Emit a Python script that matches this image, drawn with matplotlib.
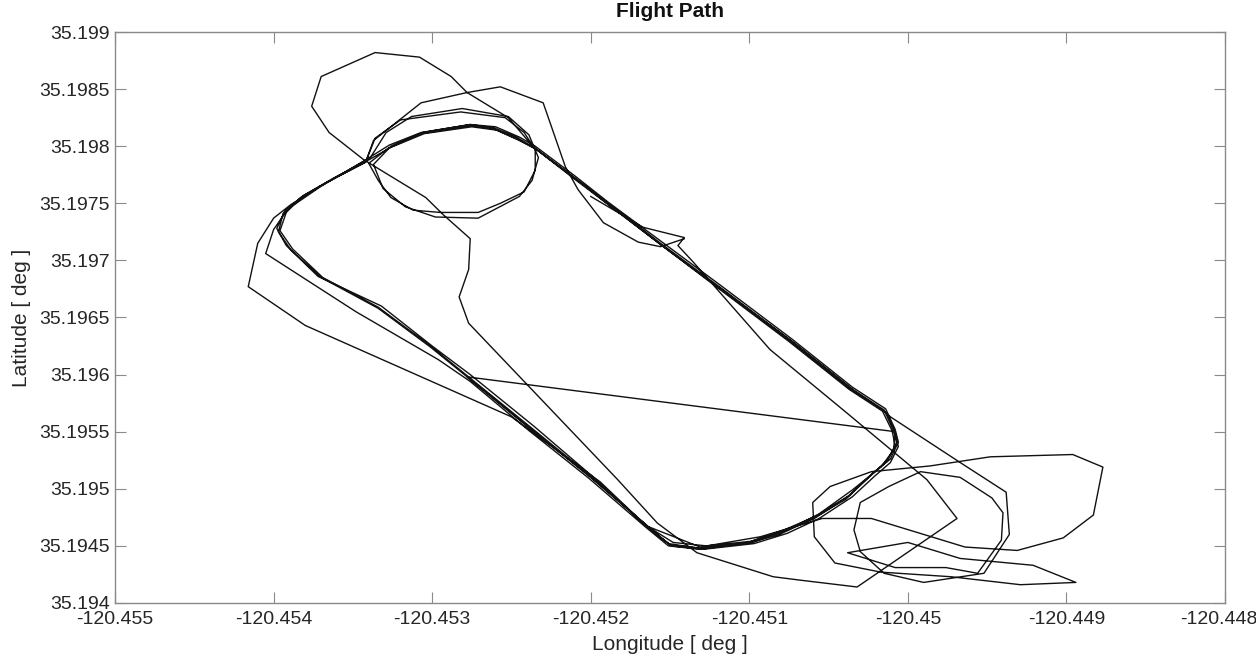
import matplotlib
matplotlib.use("Agg")
import matplotlib.pyplot as plt
from matplotlib.transforms import ScaledTranslation

plt.rcParams["font.family"] = ["Liberation Sans", "DejaVu Sans"]

# flight track, in order (degrees)
lon = [
    # take-off leg, big north-west loop, first pass
    -120.45200, -120.45167, -120.45141, -120.45145, -120.45135, -120.45087, -120.45039, -120.44988,
    -120.44969, -120.45032, -120.45068, -120.45085, -120.45133, -120.45158, -120.45183, -120.45277,
    -120.45283, -120.45277, -120.45276, -120.45293, -120.45304, -120.45343, -120.45365, -120.45376,
    -120.45370, -120.45336, -120.45308, -120.45288, -120.45278, -120.45252, -120.45236, -120.45211,
    -120.45189, -120.45156, -120.45118, -120.45074, -120.45036, -120.45015, -120.45009, -120.45007,
    -120.45013, -120.45023, -120.45038, -120.45059, -120.45080, -120.45101, -120.45131, -120.45150,
    -120.45164,
    # lap 1
    -120.45200, -120.45238, -120.45278, -120.45301, -120.45334, -120.45370, -120.45389, -120.45397,
    -120.45394, -120.45383, -120.45364, -120.45342,
    -120.45336, -120.45320, -120.45282, -120.45254, -120.45242, -120.45235, -120.45235, -120.45242,
    -120.45257, -120.45271, -120.45295, -120.45312, -120.45326, -120.45334, -120.45340,
    -120.45328, -120.45307, -120.45276, -120.45261, -120.45246, -120.45235, -120.45211, -120.45189,
    -120.45156, -120.45118, -120.45074, -120.45036, -120.45015, -120.45011,
    # south-east loops
    -120.44967, -120.44938, -120.44936, -120.44952, -120.44990, -120.45015, -120.45030, -120.45034,
    -120.45030, -120.45012, -120.44992, -120.44967, -120.44947, -120.44940, -120.44941, -120.44956,
    -120.44976, -120.45008, -120.45038, -120.45000, -120.44967, -120.44921, -120.44894, -120.44929,
    -120.44973, -120.45017, -120.45046, -120.45059, -120.45060, -120.45049, -120.45023, -120.44986,
    -120.44948, -120.44896, -120.44877, -120.44883, -120.44902, -120.44931, -120.44964, -120.45023,
    -120.45054, -120.45093, -120.45131, -120.45164,
    # lap 2
    -120.45200, -120.45238, -120.45278, -120.45301, -120.45334, -120.45369, -120.45388, -120.45396,
    -120.45392, -120.45382, -120.45363, -120.45339,
    -120.45329, -120.45313, -120.45281, -120.45252, -120.45239, -120.45233, -120.45237, -120.45245,
    -120.45271, -120.45298, -120.45317, -120.45331, -120.45337,
    -120.45326, -120.45306, -120.45276, -120.45260, -120.45245, -120.45235, -120.45210, -120.45189,
    -120.45155, -120.45117, -120.45073, -120.45035, -120.45014, -120.45008, -120.45006, -120.45011,
    -120.45022, -120.45036, -120.45058, -120.45078, -120.45099, -120.45127, -120.45148, -120.45163,
    # lap 3 with the short cut across
    -120.45199, -120.45237, -120.45278, -120.45008, -120.45009, -120.45017, -120.45035, -120.45056,
    -120.45076, -120.45098, -120.45131, -120.45151, -120.45165, -120.45201, -120.45239, -120.45276,
    -120.45296, -120.45348, -120.45405, -120.45400, -120.45391, -120.45370, -120.45342,
    -120.45327, -120.45307, -120.45276, -120.45261, -120.45247, -120.45236, -120.45211, -120.45190,
    -120.45157, -120.45119, -120.45075, -120.45037, -120.45016, -120.45010, -120.45008, -120.45013,
    -120.45025, -120.45039, -120.45061, -120.45081, -120.45102, -120.45132, -120.45151, -120.45165,
    # lap 4
    -120.45199, -120.45236, -120.45276, -120.45300, -120.45332, -120.45372, -120.45392, -120.45398,
    -120.45393, -120.45381, -120.45361, -120.45340, -120.45326, -120.45305, -120.45275, -120.45259,
    -120.45245, -120.45234, -120.45209, -120.45188, -120.45155, -120.45116, -120.45072, -120.45034,
    -120.45013, -120.45008, -120.45006, -120.45011, -120.45021, -120.45035, -120.45056, -120.45076,
    -120.45097, -120.45129, -120.45149, -120.45163,
    # lap 5, wide west turn, northern loop, landing
    -120.45194, -120.45250, -120.45380, -120.45416, -120.45410, -120.45400, -120.45389, -120.45367,
    -120.45342, -120.45337, -120.45307, -120.45278, -120.45257, -120.45230, -120.45216, -120.45208,
    -120.45192, -120.45170, -120.45156, -120.45141,
]

lat = [
    35.19756, 35.19729, 35.19720, 35.19713, 35.19698, 35.19622, 35.19567, 35.19508,
    35.19474, 35.19414, 35.19420, 35.19423, 35.19444, 35.19470, 35.19508, 35.19645,
    35.19668, 35.19692, 35.19719, 35.19740, 35.19755, 35.19788, 35.19812, 35.19835,
    35.19861, 35.19882, 35.19878, 35.19861, 35.19847, 35.19825, 35.19799, 35.19773,
    35.19750, 35.19715, 35.19676, 35.19630, 35.19588, 35.19569, 35.19551, 35.19540,
    35.19525, 35.19512, 35.19493, 35.19474, 35.19462, 35.19453, 35.19448, 35.19451,
    35.19467,
    35.19510, 35.19553, 35.19598, 35.19624, 35.19658, 35.19685, 35.19709, 35.19725,
    35.19741, 35.19755, 35.19770, 35.19786,
    35.19807, 35.19823, 35.19830, 35.19825, 35.19812, 35.19797, 35.19779, 35.19760,
    35.19750, 35.19742, 35.19742, 35.19744, 35.19755, 35.19770, 35.19785,
    35.19798, 35.19811, 35.19818, 35.19815, 35.19806, 35.19798, 35.19772, 35.19749,
    35.19714, 35.19675, 35.19629, 35.19587, 35.19568, 35.19563,
    35.19523, 35.19497, 35.19460, 35.19426, 35.19418, 35.19426, 35.19445, 35.19464,
    35.19488, 35.19502, 35.19515, 35.19510, 35.19492, 35.19479, 35.19455, 35.19426,
    35.19431, 35.19431, 35.19444, 35.19453, 35.19439, 35.19433, 35.19418, 35.19416,
    35.19423, 35.19427, 35.19435, 35.19458, 35.19488, 35.19502, 35.19515, 35.19520,
    35.19528, 35.19530, 35.19519, 35.19477, 35.19457, 35.19446, 35.19449, 35.19474,
    35.19474, 35.19458, 35.19449, 35.19467,
    35.19511, 35.19554, 35.19599, 35.19625, 35.19659, 35.19685, 35.19710, 35.19726,
    35.19742, 35.19756, 35.19771, 35.19790,
    35.19812, 35.19826, 35.19833, 35.19826, 35.19810, 35.19790, 35.19770, 35.19756,
    35.19737, 35.19738, 35.19747, 35.19763, 35.19784,
    35.19800, 35.19812, 35.19819, 35.19817, 35.19808, 35.19800, 35.19774, 35.19751,
    35.19716, 35.19677, 35.19631, 35.19589, 35.19570, 35.19552, 35.19541, 35.19526,
    35.19514, 35.19495, 35.19476, 35.19464, 35.19454, 35.19450, 35.19453, 35.19466,
    35.19509, 35.19551, 35.19598, 35.19550, 35.19534, 35.19519, 35.19499, 35.19478,
    35.19464, 35.19453, 35.19447, 35.19450, 35.19466, 35.19509, 35.19551, 35.19594,
    35.19613, 35.19655, 35.19706, 35.19727, 35.19745, 35.19765, 35.19788,
    35.19801, 35.19812, 35.19819, 35.19816, 35.19808, 35.19799, 35.19773, 35.19750,
    35.19715, 35.19675, 35.19629, 35.19587, 35.19568, 35.19551, 35.19538, 35.19524,
    35.19510, 35.19491, 35.19473, 35.19460, 35.19452, 35.19448, 35.19452, 35.19467,
    35.19511, 35.19555, 35.19600, 35.19625, 35.19660, 35.19686, 35.19713, 35.19728,
    35.19743, 35.19757, 35.19773, 35.19788, 35.19799, 35.19811, 35.19817, 35.19814,
    35.19805, 35.19797, 35.19771, 35.19749, 35.19713, 35.19673, 35.19628, 35.19586,
    35.19566, 35.19549, 35.19537, 35.19523, 35.19511, 35.19493, 35.19474, 35.19461,
    35.19452, 35.19447, 35.19450, 35.19465,
    35.19506, 35.19563, 35.19643, 35.19677, 35.19715, 35.19737, 35.19749, 35.19768,
    35.19786, 35.19805, 35.19838, 35.19847, 35.19852, 35.19838, 35.19782, 35.19762,
    35.19733, 35.19716, 35.19712, 35.19719,
]

x_ticks = [-120.455, -120.454, -120.453, -120.452, -120.451, -120.450, -120.449, -120.448]
x_labels = ["-120.455", "-120.454", "-120.453", "-120.452", "-120.451", "-120.45", "-120.449", "-120.448"]
y_ticks = [35.194, 35.1945, 35.195, 35.1955, 35.196, 35.1965, 35.197, 35.1975, 35.198, 35.1985, 35.199]
y_labels = ["35.194", "35.1945", "35.195", "35.1955", "35.196", "35.1965", "35.197", "35.1975",
            "35.198", "35.1985", "35.199"]

fig = plt.figure(figsize=(12.56, 6.6), dpi=100)
ax = fig.add_axes([0.0916, 0.0864, 0.8837, 0.8651])

ax.plot(lon, lat, color="#111111", linewidth=1.0)

ax.set_xlim(-120.455, -120.448)
ax.set_ylim(35.194, 35.199)
ax.set_xticks(x_ticks)
ax.set_xticklabels(x_labels)
ax.set_yticks(y_ticks)
ax.set_yticklabels(y_labels)

grey = "#8a8a8a"
for s in ax.spines.values():
    s.set_color(grey)
    s.set_linewidth(1.0)
ax.tick_params(direction="in", length=8, width=0.8, color=grey, labelcolor="#262626",
               labelsize=14, top=True, right=True)
ax.tick_params(axis="x", pad=6)
ax.tick_params(axis="y", pad=4)

# last x label sits right at the figure edge; nudge it in a little so it is not clipped
last = ax.get_xticklabels()[-1]
last.set_transform(last.get_transform() + ScaledTranslation(-6 / 100, 0, fig.dpi_scale_trans))

ax.set_xlabel("Longitude [ deg ]", fontsize=15, color="#262626", labelpad=5)
ax.set_ylabel("Latitude [ deg ]", fontsize=15, color="#262626", labelpad=6)
ax.set_title("Flight Path", fontsize=15, fontweight="bold", color="#111111", pad=11)

fig.savefig("out.png", dpi=100)
